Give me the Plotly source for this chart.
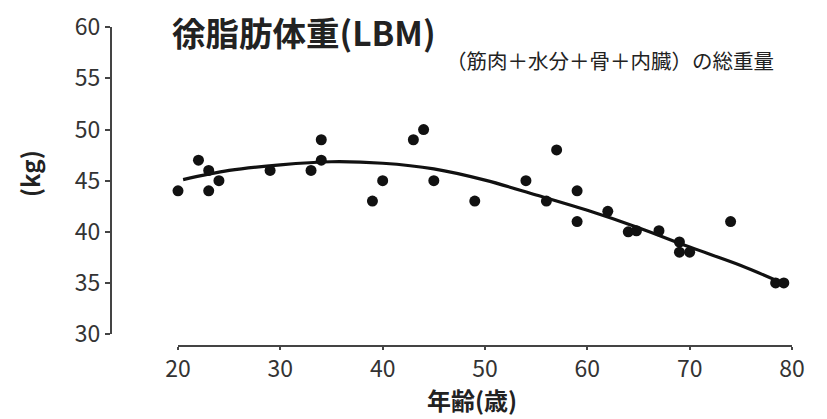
import plotly.graph_objects as go

# Scatter data (age in years, lean body mass in kg)
age = [20, 22, 23, 23, 24, 29, 33, 34, 34, 39, 40, 43, 44, 45, 49, 54, 56, 57,
       59, 59, 62, 64, 64.8, 67, 69, 69, 70, 74, 78.4, 79.2]
lbm = [44, 47, 46, 44, 45, 46, 46, 47, 49, 43, 45, 49, 50, 45, 43, 45, 43, 48,
       44, 41, 42, 40, 40.1, 40.1, 39, 38, 38, 41, 35, 35]

# Fitted trend line
fit_age = [20.5, 25, 30, 35, 40, 45, 50, 55, 60, 65, 70, 75, 79]
fit_lbm = [45.1, 46.0, 46.55, 46.85, 46.7, 46.15, 45.05, 43.6, 42.1, 40.4, 38.5, 36.7, 35.0]

x_ticks = [20, 30, 40, 50, 60, 70, 80]
y_ticks = [30, 35, 40, 45, 50, 55, 60]

title_text = "徐脂肪体重(LBM)"
subtitle_text = "（筋肉＋水分＋骨＋内臓）の総重量"
x_title = "年齢(歳)"
y_title = "(kg)"

FONT = "Noto Sans CJK JP"
OFF = 8  # page body margin
W, H = 827 - 2 * OFF, 419
ML, MR, MT, MB = 100, 20, 10, 59
PW = W - ML - MR
PH = H - MT - MB


def px(xp):
    return (xp - OFF - ML) / PW


def py(yp):
    return (H - MB - (yp - OFF)) / PH


fig = go.Figure()
fig.add_trace(go.Scatter(
    x=fit_age, y=fit_lbm, mode="lines", line=dict(color="#111111", width=3.2, shape="spline"),
    hoverinfo="skip", showlegend=False, cliponaxis=False,
))
fig.add_trace(go.Scatter(
    x=age, y=lbm, mode="markers", marker=dict(color="#111111", size=11),
    showlegend=False, cliponaxis=False,
))

fig.update_layout(
    template="none",
    width=W, height=H,
    margin=dict(l=ML, r=MR, t=MT, b=MB, pad=0),
    paper_bgcolor="white", plot_bgcolor="white",
    font=dict(family=FONT, color="#333333"),
    xaxis=dict(
        domain=[px(178), px(792)], range=[20, 80], anchor="free", position=py(345.7),
        tickvals=x_ticks, ticks="outside", ticklen=3, tickwidth=1.5, tickcolor="#444444",
        showline=True, linecolor="#444444", linewidth=2, showgrid=False, zeroline=False,
        automargin=False,
        tickfont=dict(size=23, family=FONT, color="#333333"),
    ),
    yaxis=dict(
        domain=[py(334), py(27.3)], range=[30, 60], anchor="free", position=px(111),
        tickvals=y_ticks, ticks="outside", ticklen=5, tickwidth=1.5, tickcolor="#444444",
        showline=True, linecolor="#444444", linewidth=2, showgrid=False, zeroline=False,
        automargin=False,
        tickfont=dict(size=23, family=FONT, color="#333333"),
    ),
    annotations=[
        dict(text="<b>" + title_text + "</b>", xref="paper", yref="paper",
             x=px(170), y=py(31), xanchor="left", yanchor="middle", showarrow=False,
             font=dict(size=33.5, family=FONT, color="#222222")),
        dict(text=subtitle_text, xref="paper", yref="paper",
             x=px(444), y=py(60), xanchor="left", yanchor="middle", showarrow=False,
             font=dict(size=20.5, family=FONT, color="#222222")),
        dict(text="<b>" + y_title + "</b>", xref="paper", yref="paper",
             x=px(29), y=py(174), xanchor="center", yanchor="middle", showarrow=False,
             textangle=-90, font=dict(size=24, family=FONT, color="#222222")),
        dict(text="<b>" + x_title + "</b>", xref="paper", yref="paper",
             x=px(472), y=py(399), xanchor="center", yanchor="middle", showarrow=False,
             font=dict(size=24, family=FONT, color="#222222")),
    ],
)

fig.write_html("out.html")
